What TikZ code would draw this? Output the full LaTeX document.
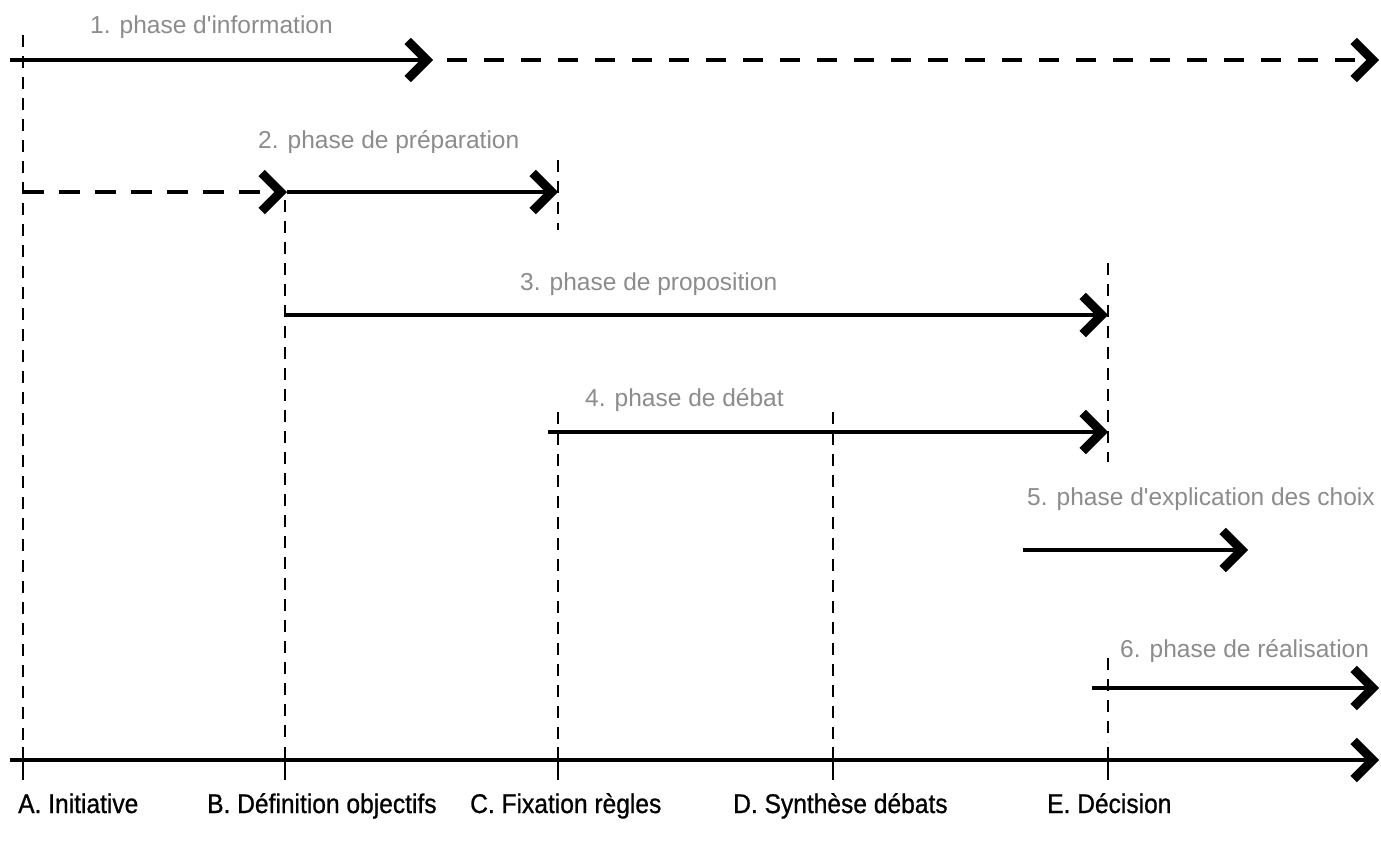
\documentclass[tikz,border=0pt]{standalone}
\usepackage{fontspec}
\setmainfont{Liberation Sans}
\newfontfamily\phasefont{Liberation Sans}
\newfontfamily\stagefont[FakeStretch=0.91,FakeBold=0.8]{Liberation Sans}
\usetikzlibrary{arrows.meta}
\begin{document}
\begin{tikzpicture}[x=1pt,y=-1pt,
  chevron/.style={-{Straight Barb[length=19pt,width=38pt,line width=9pt,sharp]}},
  flow/.style={line width=4pt,chevron},
  hdash/.style={dash pattern=on 21pt off 15pt},
  marker/.style={line width=2.8pt,dash pattern=on 12pt off 9pt},
  tick/.style={line width=2.8pt},
  phaselabel/.style={anchor=base west,inner sep=0pt,text=black!45,
    font=\phasefont\fontsize{24.5}{28}\selectfont},
  stagelabel/.style={anchor=base west,inner sep=0pt,text=black,
    font=\stagefont\fontsize{27}{31}\selectfont}]
\fill[white] (0,0) rectangle (1381,841);
\useasboundingbox (0,0) rectangle (1381,841);

% end points of the phase arrows
\coordinate (p1s) at (10,60);   \coordinate (p1m) at (433,60);  \coordinate (p1e) at (1379,60);
\coordinate (p2s) at (23,192);  \coordinate (p2m) at (287,192); \coordinate (p2e) at (558,192);
\coordinate (p3s) at (285,315); \coordinate (p3e) at (1108,315);
\coordinate (p4s) at (548,432); \coordinate (p4e) at (1108,432);
\coordinate (p5s) at (1023,550);\coordinate (p5e) at (1248,550);
\coordinate (p6s) at (1092,688);\coordinate (p6e) at (1379,688);
\coordinate (axs) at (10,760);  \coordinate (axe) at (1379,760);

% phase arrows
\draw[flow] (p1s) -- (p1m);
\draw[flow,dash pattern=on 20pt off 17pt,dash phase=23pt] (p1m) -- (p1e);
\draw[flow,hdash] (p2s) -- (p2m);
\draw[flow] (p2m) -- (p2e);
\draw[flow] (p3s) -- (p3e);
\draw[flow] (p4s) -- (p4e);
\draw[flow] (p5s) -- (p5e);
\draw[flow] (p6s) -- (p6e);
\draw[flow] (axs) -- (axe);

% milestone markers
\coordinate (At) at (23,35);    \coordinate (Ab) at (23,742);
\coordinate (Bt) at (285,200);  \coordinate (Bb) at (285,742);
\coordinate (Ct1) at (558,160); \coordinate (Cb1) at (558,230);
\coordinate (Ct) at (558,412);  \coordinate (Cb) at (558,742);
\coordinate (Dt) at (833,412);  \coordinate (Db) at (833,742);
\coordinate (Et1) at (1108,263);\coordinate (Eb1) at (1108,462);
\coordinate (Et) at (1108,658); \coordinate (Eb) at (1108,742);
\draw[marker] (At) -- (Ab);
\draw[marker] (Bt) -- (Bb);
\draw[marker] (Ct1) -- (Cb1);
\draw[marker] (Ct) -- (Cb);
\draw[marker] (Dt) -- (Db);
\draw[marker] (Et1) -- (Eb1);
\draw[marker] (Et) -- (Eb);

% ticks on the time axis
\foreach \n/\x in {A/23,B/285,C/558,D/833,E/1108}{
  \coordinate (\n u) at (\x,747); \coordinate (\n d) at (\x,780);
  \draw[tick] (\n u) -- (\n d);
}

% phase names
\node[phaselabel] (l1) at (90,33)   {1. phase d'information};
\node[phaselabel] (l2) at (258,148) {2. phase de préparation};
\node[phaselabel] (l3) at (520,290) {3. phase de proposition};
\node[phaselabel] (l4) at (585,406) {4. phase de débat};
\node[phaselabel] (l5) at (1027,505){5. phase d'explication des choix};
\node[phaselabel] (l6) at (1120,657){6. phase de réalisation};

% milestone names
\node[stagelabel] (sA) at (18,813)  {A. Initiative};
\node[stagelabel] (sB) at (207,813) {B. Définition objectifs};
\node[stagelabel] (sC) at (470,813) {C. Fixation règles};
\node[stagelabel] (sD) at (733,813) {D. Synthèse débats};
\node[stagelabel] (sE) at (1047,813){E. Décision};
\end{tikzpicture}
\end{document}
